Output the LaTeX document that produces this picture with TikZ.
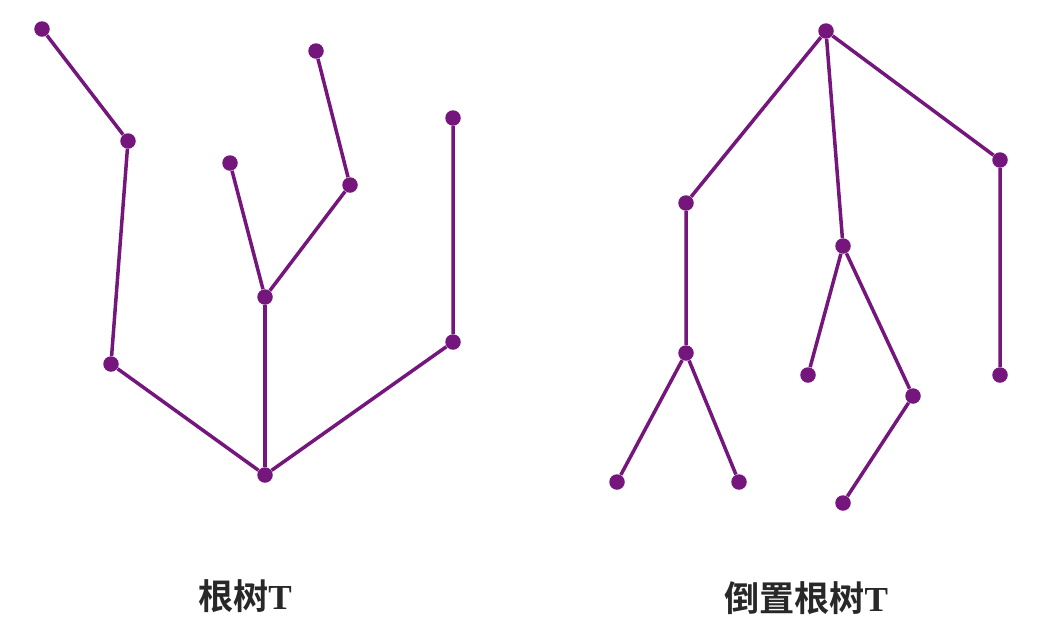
\documentclass[tikz,border=0pt]{standalone}
\usepackage{fontspec}
\usepackage{xcolor}
\usepackage{tikz}
\newfontfamily\cjk{Noto Sans CJK SC}[BoldFont={Noto Sans CJK SC Bold}]
\setmainfont{Liberation Serif}
\definecolor{treepurple}{RGB}{117,22,125}
\definecolor{labeltext}{RGB}{40,40,40}
\tikzset{
    vertex/.style={circle, fill=treepurple, inner sep=0pt, minimum size=15.5pt*0.02/0.03514},
    edge/.style={line width=3.5pt*0.02/0.03514, color=treepurple},
    caption/.style={font=\fontsize{20}{24}\selectfont\bfseries, text=labeltext}
}

\begin{document}
\begin{tikzpicture}[x=0.02cm, y=-0.02cm]
    \useasboundingbox (0,0) rectangle (1058,640);

    % Rooted tree
    \node (r) [vertex] at (265,475) {};
    \node (c) [vertex] at (111,364) {};
    \node (b) [vertex] at (128,141) {};
    \node (a) [vertex] at (42,29) {};
    \node (d) [vertex] at (265,297) {};
    \node (e) [vertex] at (230,163) {};
    \node (f) [vertex] at (350,185) {};
    \node (g) [vertex] at (316,51) {};
    \node (h) [vertex] at (453,342) {};
    \node (i) [vertex] at (453,118) {};

    % Inverted rooted tree
    \node (R) [vertex] at (826,31) {};
    \node (A) [vertex] at (686,203) {};
    \node (B) [vertex] at (843,246) {};
    \node (C) [vertex] at (1000,160) {};
    \node (A1) [vertex] at (686,353) {};
    \node (A2) [vertex] at (617,482) {};
    \node (A3) [vertex] at (739,482) {};
    \node (B1) [vertex] at (808,375) {};
    \node (B2) [vertex] at (913,396) {};
    \node (B3) [vertex] at (843,503) {};
    \node (C1) [vertex] at (1000,375) {};

    % Labels
    \node (tlabel) [caption] at (245,596) {{\cjk 根树}T};
    \node (ilabel) [caption] at (806,598) {{\cjk 倒置根树}T};

    % Edges
    \draw [edge] (a) -- (b) -- (c) -- (r);
    \draw [edge] (r) -- (d);
    \draw [edge] (d) -- (e);
    \draw [edge] (d) -- (f) -- (g);
    \draw [edge] (r) -- (h) -- (i);

    \draw [edge] (R) -- (A) -- (A1);
    \draw [edge] (A1) -- (A2);
    \draw [edge] (A1) -- (A3);
    \draw [edge] (R) -- (B);
    \draw [edge] (B) -- (B1);
    \draw [edge] (B) -- (B2) -- (B3);
    \draw [edge] (R) -- (C) -- (C1);
\end{tikzpicture}
\end{document}
